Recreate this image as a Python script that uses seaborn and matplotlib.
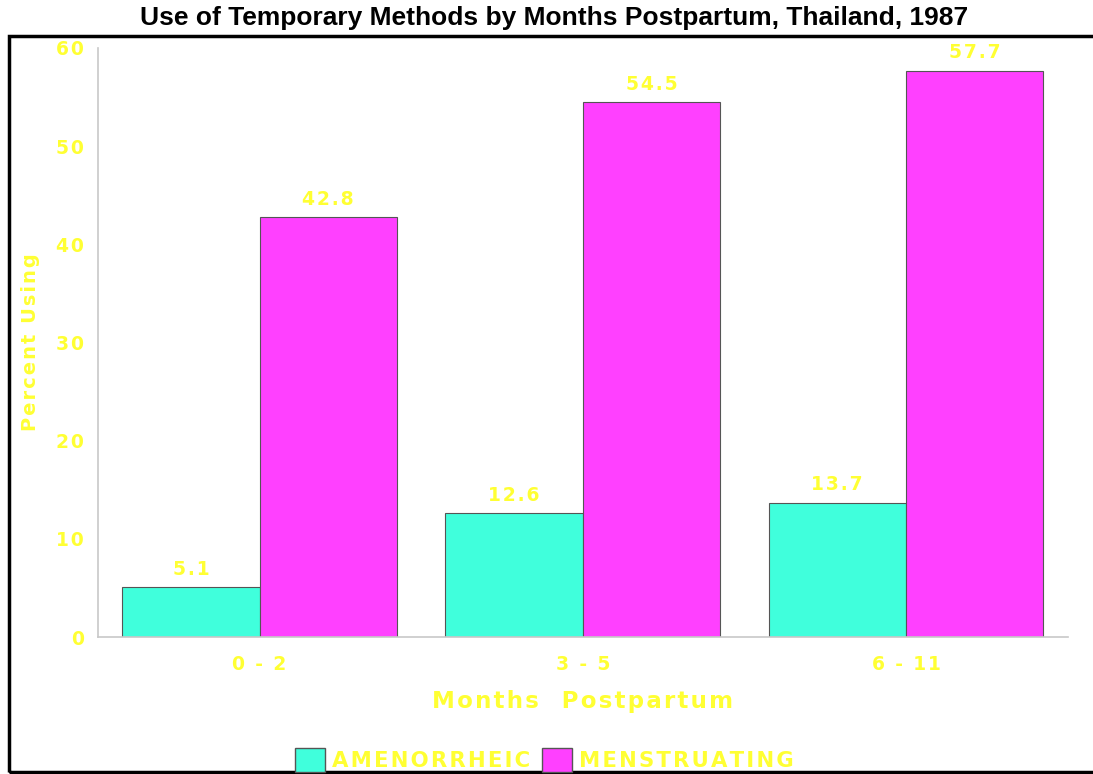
import seaborn as sns
import pandas as pd
from matplotlib import pyplot as plt
from matplotlib.patches import Rectangle

months = ["0 - 2", "3 - 5", "6 - 11"]
amenorrheic = [5.1, 12.6, 13.7]
menstruating = [42.8, 54.5, 57.7]
groups = ["AMENORRHEIC", "MENSTRUATING"]
yticks = [0, 10, 20, 30, 40, 50, 60]


def spaced(s):
    # the original chart uses wide letter spacing
    return "\u200a".join(s)


df = pd.DataFrame({
    "month": months * 2,
    "pct": amenorrheic + menstruating,
    "status": [groups[0]] * 3 + [groups[1]] * 3,
})

sns.set_style("white")
plt.rcParams["font.family"] = ["DejaVu Sans"]
yellow = "#FFFF33"
lab_font = {"family": "DejaVu Sans", "weight": "bold"}

fig = plt.figure(figsize=(10.93, 7.74), dpi=100)
ax = fig.add_axes([0.0897, 0.177, 0.887, 0.761])
sns.barplot(data=df, x="month", y="pct", hue="status", order=months,
            hue_order=groups, palette=["#40FFDC", "#FF40FF"], width=0.85,
            gap=0, edgecolor="#555555", linewidth=0.8, saturation=1, ax=ax)

for cont in ax.containers:
    ax.bar_label(cont, fmt=lambda v: spaced(f"{v:.1f}"), padding=6,
                 color=yellow, fontsize=13.5, **lab_font)

ax.set_ylim(0, 60)
ax.set_xlim(-0.5, 2.5)
ax.set_yticks(yticks)
ax.set_yticklabels([spaced(str(t)) for t in yticks], color=yellow,
                   fontsize=13.5, **lab_font)
ax.set_xticks(range(len(months)))
ax.set_xticklabels([spaced(m) for m in months], color=yellow, fontsize=13.5,
                   **lab_font)
ax.tick_params(axis="y", pad=10, length=0)
ax.tick_params(axis="x", pad=13, length=0)
for s in ["top", "right"]:
    ax.spines[s].set_visible(False)
for s in ["left", "bottom"]:
    ax.spines[s].set_color("#c8c8c8")
    ax.spines[s].set_linewidth(1.2)

ax.set_xlabel(spaced("Months  Postpartum"), color=yellow, fontsize=16.5,
              **lab_font)
ax.xaxis.label.set_va("center")
ax.xaxis.set_label_coords(0.5, -0.11)
ax.set_ylabel(spaced("Percent Using"), color=yellow, fontsize=14, **lab_font)
ax.yaxis.label.set_va("center")
ax.yaxis.set_label_coords(-0.070, 0.5)
fig.text(0.507, 0.977,
         "Use of Temporary Methods by Months Postpartum, Thailand, 1987",
         ha="center", va="center", fontsize=19, color="black",
         family="Liberation Sans", weight="bold")

ax.get_legend().remove()
handles = [Rectangle((0, 0), 1, 1, facecolor=c, edgecolor="#555555")
           for c in ["#40FFDC", "#FF40FF"]]
leg = fig.legend(handles, [spaced(g) for g in groups], loc="center", ncol=2,
                 frameon=False, bbox_to_anchor=(0.498, 0.018),
                 handlelength=1.4, handleheight=1.4, columnspacing=0.6,
                 handletextpad=0.3, borderpad=0,
                 prop={"family": "DejaVu Sans", "weight": "bold",
                       "size": 15.3})
for t in leg.get_texts():
    t.set_color(yellow)

fig.patches.append(Rectangle((9 / 1093, 2 / 774), 1.1, 736 / 774,
                             transform=fig.transFigure, fill=False,
                             edgecolor="black", linewidth=2.5))

fig.savefig("out.png", dpi=100)
